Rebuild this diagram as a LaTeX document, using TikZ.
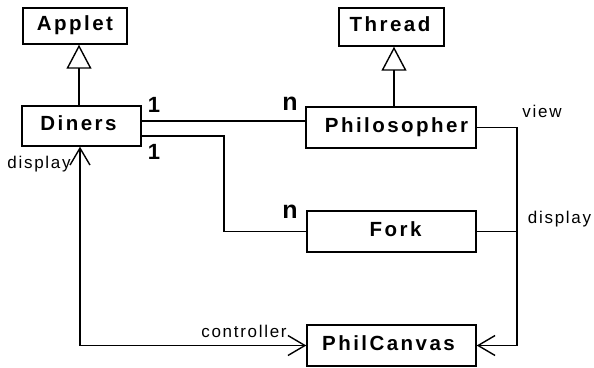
\documentclass[tikz,border=0pt]{standalone}
\usepackage{fontspec}
\setmainfont{Liberation Sans}
\newfontfamily\clsfont[LetterSpace=12.0]{Liberation Sans}
\newfontfamily\lblfont[LetterSpace=10.0]{Liberation Sans}
\usetikzlibrary{arrows.meta}
\begin{document}
\begin{tikzpicture}[x=1pt,y=-1pt,
  cls/.style={draw, line width=1.4pt, rectangle, inner sep=0pt, text height=14pt, text depth=5pt,
    font=\clsfont\bfseries\fontsize{20.5pt}{21pt}\selectfont},
  conn/.style={line width=1.4pt},
  inh/.style={conn, -{Triangle[open, length=24pt, width=25pt]}},
  nav/.style={conn, -{Straight Barb[length=17pt, width=20pt]}},
  navb/.style={conn, {Straight Barb[length=17pt, width=20pt]}-{Straight Barb[length=17pt, width=20pt]}},
  mult/.style={inner sep=0pt, font=\bfseries\fontsize{22pt}{24pt}\selectfont},
  multn/.style={inner sep=0pt, font=\bfseries\fontsize{25pt}{26pt}\selectfont},
  lbl/.style={inner sep=0pt, font=\lblfont\fontsize{17pt}{18pt}\selectfont}]
\useasboundingbox (0,0) rectangle (594,367);
\node[cls, minimum width=104pt, minimum height=36pt] (Applet) at (75,26) {Applet};
\node[cls, minimum width=105pt, minimum height=38pt] (Thread) at (391.5,27) {\hspace*{-3pt}Thread};
\node[cls, minimum width=119pt, minimum height=40pt] (Diners) at (81.5,126) {\hspace*{-6pt}Diners};
\node[cls, minimum width=170pt, minimum height=41pt] (Philosopher) at (391,127.5) {\hspace*{11pt}Philosopher};
\node[cls, minimum width=169pt, minimum height=41pt] (Fork) at (391.5,231.5) {\hspace*{8pt}Fork};
\node[cls, minimum width=169pt, minimum height=41pt] (PhilCanvas) at (391.5,345.5) {\hspace*{-6pt}PhilCanvas};
\coordinate (da) at (79,0);
\coordinate (tb) at (394,0);
\coordinate (r1) at (0,121);
\coordinate (r2) at (224,136);
\coordinate (vx) at (517,0);
\coordinate (dx) at (80,0);
\draw[inh] (Diners.north -| da) -- (Applet.south -| da);
\draw[inh] (Philosopher.north -| tb) -- (Thread.south -| tb);
\draw[conn] (Diners.east |- r1) -- (Philosopher.west |- r1);
\draw[conn] (Diners.east |- r2) -- (r2) |- (Fork.west);
\draw[nav] (Philosopher.east) -- (Philosopher.east -| vx) |- (PhilCanvas.east);
\draw[conn] (Fork.east) -- (Fork.east -| vx);
\draw[navb] (Diners.south -| dx) |- (PhilCanvas.west);
\node[mult] (m1) at (154,105) {1};
\node[mult] (m2) at (154,152) {1};
\node[multn] (n1) at (290,104) {n};
\node[multn] (n2) at (290,212) {n};
\node[lbl] (view) at (542,111) {view};
\node[lbl] (disp1) at (559.5,219) {display};
\node[lbl] (disp2) at (39,164) {display};
\node[lbl] (ctrl) at (244,331) {controller};
\end{tikzpicture}
\end{document}
